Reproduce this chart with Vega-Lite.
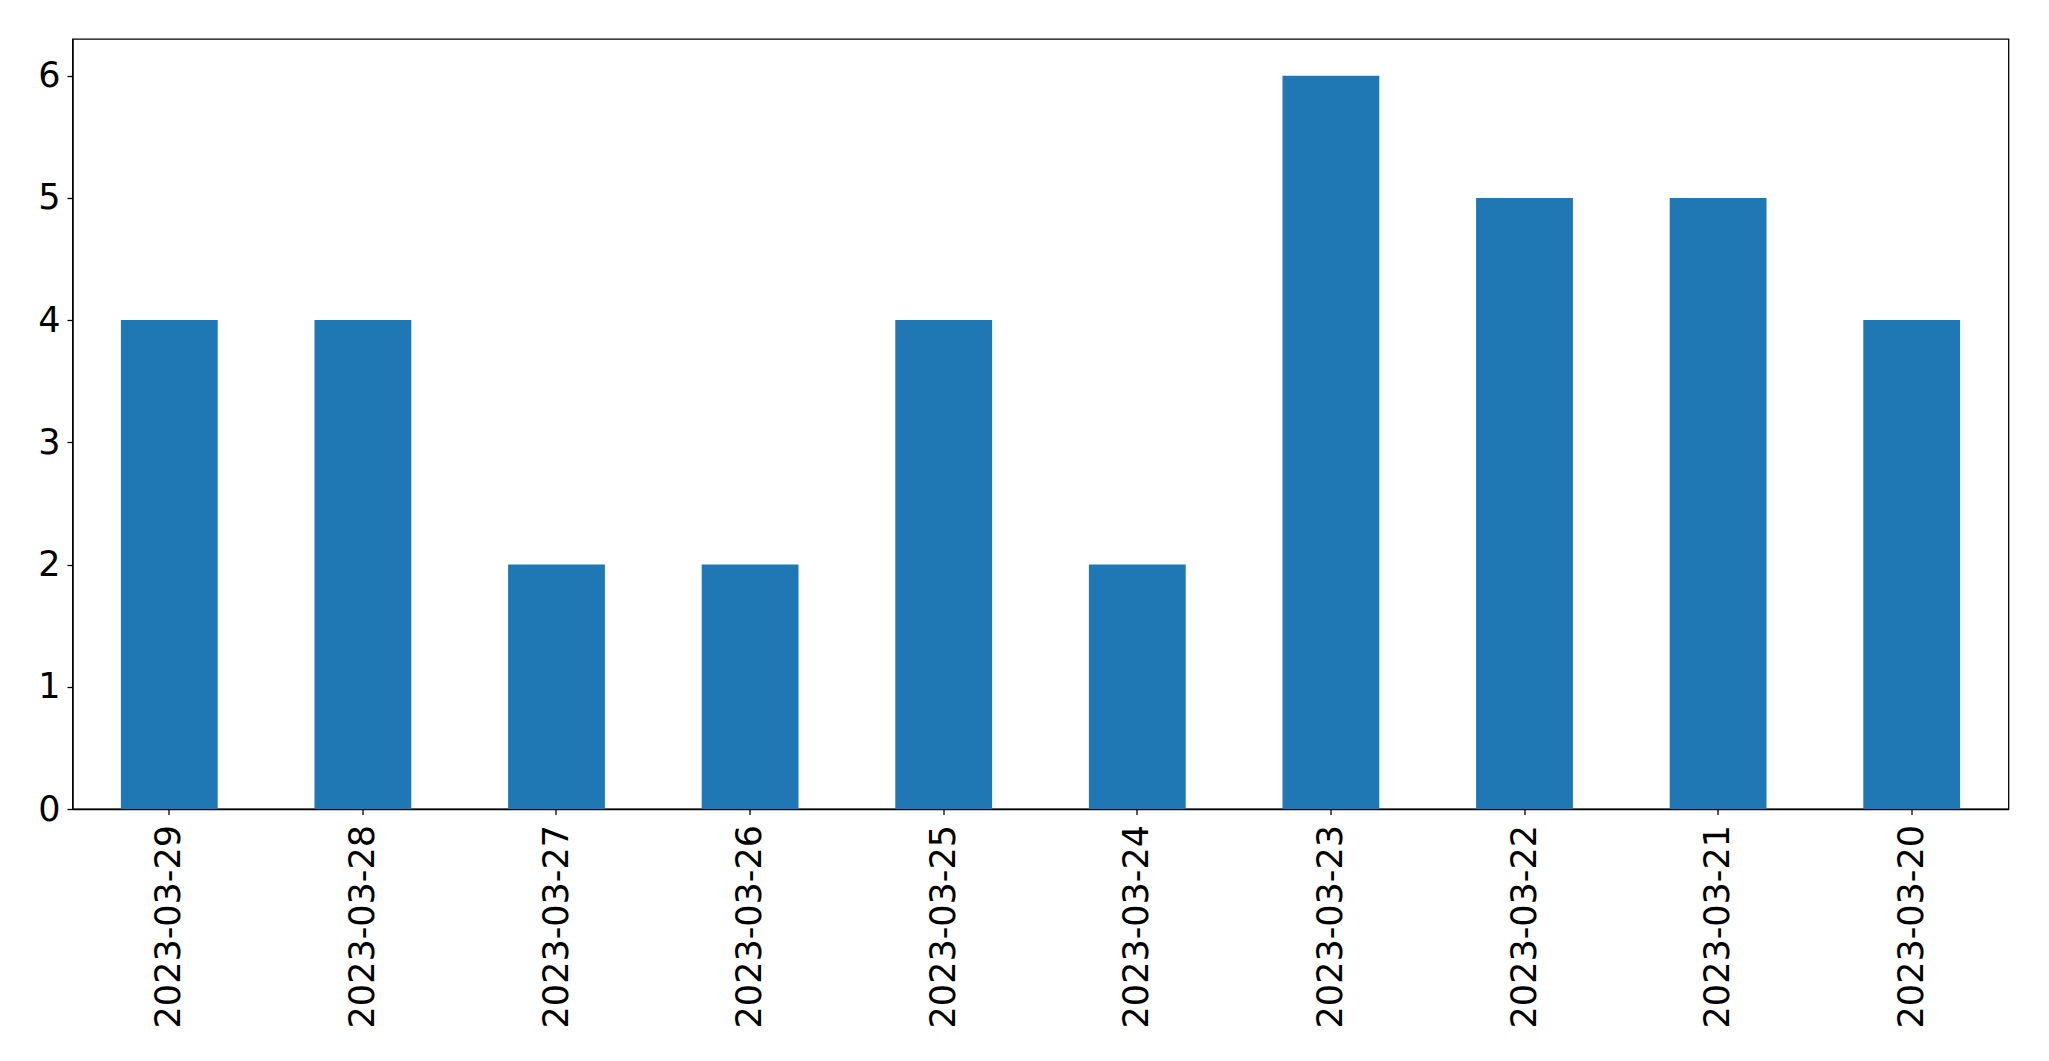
{
  "$schema": "https://vega.github.io/schema/vega-lite/v6.json",
  "autosize": "none",
  "width": 1936,
  "height": 770,
  "padding": {"left": 72.5, "top": 39, "right": 40, "bottom": 252},
  "background": "white",
  "config": {
    "view": {"stroke": "black", "strokeWidth": 1.3},
    "font": "DejaVu Sans",
    "axis": {
      "labelFont": "DejaVu Sans",
      "labelFontSize": 35,
      "labelColor": "black",
      "labelLimit": 0,
      "domainColor": "black",
      "domainWidth": 1.3,
      "tickColor": "black",
      "tickWidth": 1.3,
      "tickSize": 5.5,
      "grid": false,
      "title": null
    }
  },
  "data": {
    "values": [
      {"date": "2023-03-29", "count": 4},
      {"date": "2023-03-28", "count": 4},
      {"date": "2023-03-27", "count": 2},
      {"date": "2023-03-26", "count": 2},
      {"date": "2023-03-25", "count": 4},
      {"date": "2023-03-24", "count": 2},
      {"date": "2023-03-23", "count": 6},
      {"date": "2023-03-22", "count": 5},
      {"date": "2023-03-21", "count": 5},
      {"date": "2023-03-20", "count": 4}
    ]
  },
  "mark": {"type": "bar", "color": "#1f77b4"},
  "encoding": {
    "x": {
      "field": "date",
      "type": "nominal",
      "sort": null,
      "scale": {"paddingInner": 0.5, "paddingOuter": 0.25},
      "axis": {"labelAngle": -90, "labelPadding": 10, "title": null}
    },
    "y": {
      "field": "count",
      "type": "quantitative",
      "scale": {"domain": [0, 6.3], "nice": false},
      "axis": {"values": [0, 1, 2, 3, 4, 5, 6], "labelPadding": 7, "title": null}
    }
  }
}
